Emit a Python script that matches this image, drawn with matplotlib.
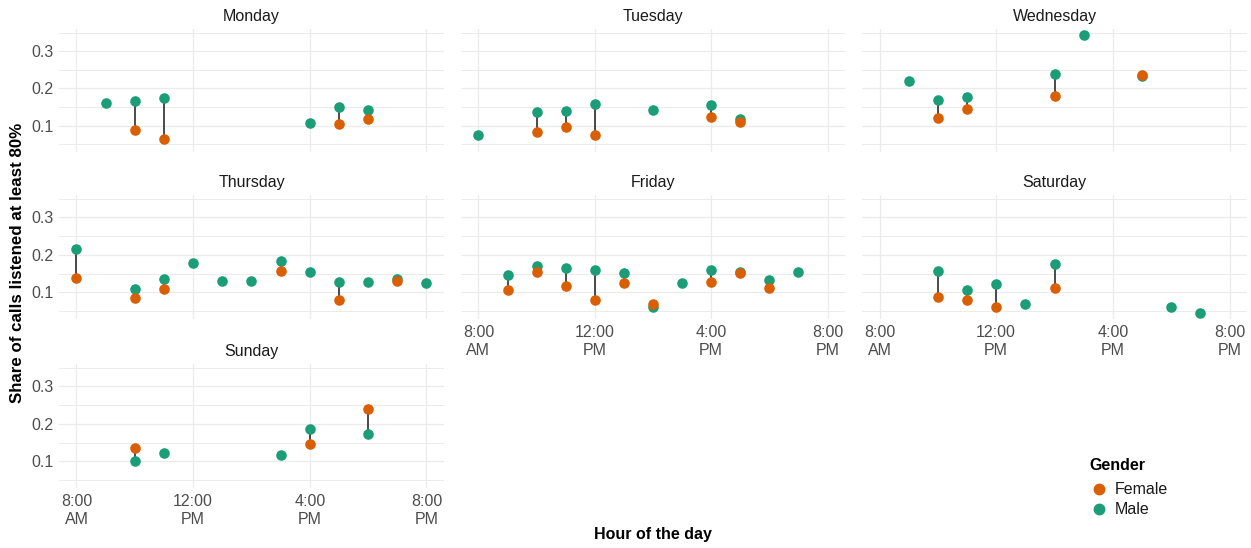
import numpy as np
import matplotlib
matplotlib.use('Agg')
import matplotlib.pyplot as plt
from matplotlib.lines import Line2D

plt.rcParams['font.family'] = ['Liberation Sans', 'DejaVu Sans']

# Data: hour of day, share for male / female (nan = no value)
nan = np.nan
days = ['Monday', 'Tuesday', 'Wednesday', 'Thursday', 'Friday', 'Saturday', 'Sunday']

mon_hours = [9, 10, 11, 16, 17, 18]
mon_male = [0.162, 0.167, 0.173, 0.108, 0.151, 0.142]
mon_female = [nan, 0.089, 0.063, nan, 0.104, 0.119]

tue_hours = [8, 10, 11, 12, 14, 16, 17]
tue_male = [0.075, 0.136, 0.138, 0.157, 0.142, 0.156, 0.117]
tue_female = [nan, 0.083, 0.095, 0.074, nan, 0.122, 0.109]

wed_hours = [9, 10, 11, 14, 15, 17]
wed_male = [0.219, 0.170, 0.178, 0.240, 0.345, 0.233]
wed_female = [nan, 0.120, 0.144, 0.179, nan, 0.237]

thu_hours = [8, 10, 11, 12, 13, 14, 15, 16, 17, 18, 19, 20]
thu_male = [0.215, 0.110, 0.137, 0.178, 0.130, 0.130, 0.183, 0.154, 0.127, 0.127, 0.137, 0.124]
thu_female = [0.138, 0.085, 0.110, nan, nan, nan, 0.158, nan, 0.081, nan, 0.131, nan]

fri_hours = [9, 10, 11, 12, 13, 14, 15, 16, 17, 18, 19]
fri_male = [0.146, 0.171, 0.164, 0.161, 0.152, 0.061, 0.125, 0.160, 0.154, 0.134, 0.155]
fri_female = [0.106, 0.154, 0.117, 0.079, 0.124, 0.069, nan, 0.128, 0.152, 0.111, nan]

sat_hours = [10, 11, 12, 13, 14, 18, 19]
sat_male = [0.158, 0.107, 0.122, 0.070, 0.176, 0.062, 0.044]
sat_female = [0.087, 0.081, 0.060, nan, 0.111, nan, nan]

sun_hours = [10, 11, 15, 16, 18]
sun_male = [0.100, 0.122, 0.118, 0.186, 0.173]
sun_female = [0.136, nan, nan, 0.147, 0.241]

day_data = {
    'Monday': (mon_hours, mon_male, mon_female),
    'Tuesday': (tue_hours, tue_male, tue_female),
    'Wednesday': (wed_hours, wed_male, wed_female),
    'Thursday': (thu_hours, thu_male, thu_female),
    'Friday': (fri_hours, fri_male, fri_female),
    'Saturday': (sat_hours, sat_male, sat_female),
    'Sunday': (sun_hours, sun_male, sun_female),
}

x_ticks = [8, 12, 16, 20]
x_labels = ['8:00\nAM', '12:00\nPM', '4:00\nPM', '8:00\nPM']
y_ticks = [0.1, 0.2, 0.3]
y_minor = [0.05, 0.15, 0.25, 0.35]

col_female = '#D95F02'
col_male = '#1B9E77'
grid_col = '#EBEBEB'
txt_col = '#4D4D4D'

W, H = 1251, 548
fig = plt.figure(figsize=(W / 100, H / 100), dpi=100)

# panel pixel boxes (left, right) and (top, bottom)
cols = [(59, 444), (461, 845), (862, 1247)]
rows = [(29, 152), (195, 319), (364, 488)]

all_vals = np.array([v for d in day_data.values() for v in d[1] + d[2]], dtype=float)
ymin, ymax = np.nanmin(all_vals), np.nanmax(all_vals)
ypad = (ymax - ymin) * 0.05

for i, day in enumerate(days):
    r, c = divmod(i, 3)
    x0, x1 = cols[c]
    y0, y1 = rows[r]
    ax = fig.add_axes([x0 / W, 1 - y1 / H, (x1 - x0) / W, (y1 - y0) / H])
    hours, male, female = day_data[day]
    hours = np.array(hours, dtype=float)
    male = np.array(male, dtype=float)
    female = np.array(female, dtype=float)

    both = ~np.isnan(male) & ~np.isnan(female)
    ax.vlines(hours[both], male[both], female[both], color='#1a1a1a', lw=1.1, zorder=2)
    ax.scatter(hours, male, s=58, color=col_male, zorder=3, linewidths=0)
    ax.scatter(hours, female, s=58, color=col_female, zorder=4, linewidths=0)

    ax.set_xlim(8 - 0.6, 20 + 0.6)
    ax.set_ylim(ymin - ypad, ymax + ypad)
    ax.set_xticks(x_ticks)
    ax.set_yticks(y_ticks)
    ax.set_yticks(y_minor, minor=True)
    ax.grid(True, which='major', color=grid_col, lw=0.9)
    ax.grid(True, which='minor', axis='y', color=grid_col, lw=0.7)
    ax.set_axisbelow(True)
    for s in ax.spines.values():
        s.set_visible(False)
    ax.tick_params(which='both', length=0, labelsize=11.5, labelcolor=txt_col, pad=4)

    if c == 0:
        ax.set_yticklabels(['0.1', '0.2', '0.3'])
    else:
        ax.set_yticklabels([])
    if day in ('Friday', 'Saturday', 'Sunday'):
        ax.set_xticklabels(x_labels, linespacing=1.25)
    else:
        ax.set_xticklabels([])

    ax.set_title(day, fontsize=11.5, color='#1a1a1a', pad=6)

fig.text(18 / W, 1 - 263 / H, 'Share of calls listened at least 80%', rotation=90,
         ha='center', va='center', fontsize=12.2, fontweight='bold')
fig.text(653 / W, 1 - 535 / H, 'Hour of the day', ha='center', va='center',
         fontsize=11.5, fontweight='bold')

# legend drawn by hand so spacing follows the reference
fig.text(1089 / W, 1 - 465 / H, 'Gender', ha='left', va='center',
         fontsize=11.5, fontweight='bold')
leg_labels = ['Female', 'Male']
leg_colors = [col_female, col_male]
leg_y = [489, 509]
for lab, colr, ly in zip(leg_labels, leg_colors, leg_y):
    fig.add_artist(Line2D([1098.5 / W], [1 - ly / H], marker='o', ls='',
                          color=colr, markersize=7.5, transform=fig.transFigure))
    fig.text(1115 / W, 1 - ly / H, lab, ha='left', va='center', fontsize=11.5,
             color='#1a1a1a')

fig.savefig('out.png', dpi=100)
